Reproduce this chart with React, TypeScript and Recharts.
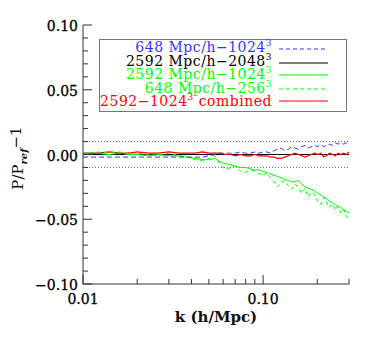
import { LineChart, Line, XAxis, YAxis, ReferenceLine } from "recharts"

const kValues = [
    0.010, 0.012, 0.014, 0.016, 0.018, 0.020, 0.023, 0.026, 0.030, 0.034,
    0.038, 0.042, 0.046, 0.050, 0.054, 0.058, 0.062, 0.066, 0.070, 0.075,
    0.080, 0.085, 0.090, 0.095, 0.100, 0.105, 0.110, 0.115, 0.120, 0.126,
    0.132, 0.138, 0.144, 0.150, 0.157, 0.164, 0.171, 0.178, 0.185, 0.193,
    0.201, 0.209, 0.217, 0.225, 0.234, 0.243, 0.252, 0.261, 0.270, 0.280,
    0.290, 0.300,
]

// 648 Mpc/h - 1024^3 (blue dashed)
const blue648_1024 = [
    -0.002, -0.002, -0.002, -0.002, -0.002, -0.002, -0.002, -0.002, -0.002, -0.002,
    -0.002, -0.002, -0.002, -0.001, 0.000, 0.001, 0.001, 0.001, 0.001, 0.002,
    0.001, 0.001, 0.002, 0.001, 0.002, 0.002, 0.001, 0.003, 0.004, 0.005,
    0.003, 0.004, 0.006, 0.005, 0.004, 0.006, 0.007, 0.005, 0.006, 0.007,
    0.006, 0.008, 0.006, 0.007, 0.008, 0.007, 0.009, 0.008, 0.009, 0.008,
    0.009, 0.010,
]

// 2592 Mpc/h - 2048^3 (black, reference)
const black2592_2048 = [
    0, 0, 0, 0, 0, 0, 0, 0, 0, 0,
    0, 0, 0, 0, 0, 0, 0, 0, 0, 0,
    0, 0, 0, 0, 0, 0, 0, 0, 0, 0,
    0, 0, 0, 0, 0, 0, 0, 0, 0, 0,
    0, 0, 0, 0, 0, 0, 0, 0, 0, 0,
    0, 0,
]

// 2592 Mpc/h - 1024^3 (green solid)
const green2592_1024 = [
    0.000, 0.001, 0.000, 0.001, 0.000, 0.000, -0.001, 0.000, -0.001, -0.001,
    -0.002, -0.003, -0.004, -0.004, -0.003, -0.006, -0.007, -0.008, -0.009, -0.010,
    -0.010, -0.011, -0.012, -0.012, -0.013, -0.014, -0.015, -0.016, -0.017, -0.018,
    -0.019, -0.020, -0.021, -0.021, -0.020, -0.023, -0.025, -0.026, -0.027, -0.028,
    -0.030, -0.031, -0.033, -0.034, -0.036, -0.037, -0.039, -0.040, -0.041, -0.043,
    -0.044, -0.045,
]

// 648 Mpc/h - 256^3 (green dashed)
const green648_256 = [
    0.001, 0.002, 0.001, 0.002, 0.000, 0.001, 0.000, -0.001, 0.001, -0.001,
    -0.002, -0.004, -0.005, -0.003, -0.001, -0.008, -0.012, -0.010, -0.009, -0.013,
    -0.014, -0.012, -0.013, -0.015, -0.016, -0.014, -0.018, -0.021, -0.025, -0.022,
    -0.020, -0.024, -0.027, -0.023, -0.025, -0.030, -0.026, -0.033, -0.029, -0.031,
    -0.036, -0.039, -0.033, -0.037, -0.041, -0.038, -0.043, -0.040, -0.045, -0.042,
    -0.048, -0.049,
]

// 2592-1024^3 combined (red)
const red2592_combined = [
    0.001, 0.001, 0.002, 0.001, 0.001, 0.002, 0.001, 0.001, 0.002, 0.001,
    0.001, 0.001, 0.002, 0.001, 0.001, 0.001, 0.000, 0.000, -0.001, 0.000,
    -0.001, -0.001, 0.000, -0.001, -0.001, -0.001, -0.002, -0.002, -0.003, -0.003,
    -0.002, -0.001, 0.000, 0.001, 0.000, -0.001, -0.002, -0.001, 0.000, 0.001,
    0.000, 0.001, -0.002, -0.001, 0.001, 0.000, -0.001, 0.001, 0.000, 0.001,
    0.000, 0.002,
]

const xTicks = [0.01, 0.02, 0.03, 0.04, 0.05, 0.06, 0.07, 0.08, 0.09, 0.1, 0.2, 0.3]
const xMajor = [0.01, 0.1]
const yTicks = [
    -0.1, -0.09, -0.08, -0.07, -0.06, -0.05, -0.04, -0.03, -0.02, -0.01, 0,
    0.01, 0.02, 0.03, 0.04, 0.05, 0.06, 0.07, 0.08, 0.09, 0.1,
]

const data = kValues.map((k, i) => ({
    k,
    blue: blue648_1024[i],
    black: black2592_2048[i],
    green: green2592_1024[i],
    greenDash: green648_256[i],
    red: red2592_combined[i],
}))

const AXIS = "#333"
const FONT = "'DejaVu Serif', serif"
const BLUE = "#3535ff"
const GREEN = "#00ff00"
const RED = "#ff0000"

const isMajorY = (v: number) => Math.round(v * 100) % 5 === 0

const LeftTick = (props: any) => {
    const { x, y, payload } = props
    const v = payload.value
    const major = isMajorY(v)
    return (
        <g>
            <line x1={x} x2={x + (major ? 9 : 5)} y1={y} y2={y} stroke={AXIS} />
            {major && (
                <text
                    x={x - 5}
                    y={y}
                    dy={6}
                    textAnchor="end"
                    fontFamily={FONT}
                    fontSize={14}
                    fill="#000"
                    stroke="#000"
                    strokeWidth={0.3}
                >
                    {v.toFixed(2).replace("-", "\u2212")}
                </text>
            )}
        </g>
    )
}

const RightTick = (props: any) => {
    const { x, y, payload } = props
    const major = isMajorY(payload.value)
    return <line x1={x} x2={x - (major ? 9 : 5)} y1={y} y2={y} stroke={AXIS} />
}

const BottomTick = (props: any) => {
    const { x, y, payload } = props
    const major = xMajor.includes(payload.value)
    return (
        <g>
            <line x1={x} x2={x} y1={y} y2={y - (major ? 9 : 5)} stroke={AXIS} />
            {major && (
                <text
                    x={x}
                    y={y + 20}
                    textAnchor="middle"
                    fontFamily={FONT}
                    fontSize={14}
                    fill="#000"
                    stroke="#000"
                    strokeWidth={0.3}
                >
                    {payload.value.toFixed(2)}
                </text>
            )}
        </g>
    )
}

const TopTick = (props: any) => {
    const { x, y, payload } = props
    const major = xMajor.includes(payload.value)
    return <line x1={x} x2={x} y1={y} y2={y + (major ? 9 : 5)} stroke={AXIS} />
}

const legendRows = [
    { main: "648 Mpc/h\u22121024", rest: "", color: BLUE, dash: "4 3", y: 47, ly: 49 },
    { main: "2592 Mpc/h\u22122048", rest: "", color: "#000", dash: undefined, y: 60.5, ly: 63 },
    { main: "2592 Mpc/h\u22121024", rest: "", color: GREEN, dash: undefined, y: 74, ly: 75 },
    { main: "648 Mpc/h\u2212256", rest: "", color: GREEN, dash: "4 3", y: 87.5, ly: 89 },
    { main: "2592\u22121024", rest: " combined", color: RED, dash: undefined, y: 101, ly: 101 },
]

export default function App() {
    return (
        <div style={{ position: "absolute", left: 0, top: 0, width: 374, height: 337, background: "#fff" }}>
            <LineChart width={374} height={337} data={data} margin={{ top: 25, right: 25, left: 0, bottom: 0 }}>
                <XAxis
                    xAxisId="bottom"
                    dataKey="k"
                    type="number"
                    scale="log"
                    domain={[0.01, 0.3]}
                    allowDataOverflow
                    ticks={xTicks}
                    interval={0}
                    height={53}
                    tickSize={0}
                    tickMargin={0}
                    tickLine={false}
                    axisLine={{ stroke: AXIS }}
                    tick={<BottomTick />}
                />
                <XAxis
                    xAxisId="top"
                    orientation="top"
                    dataKey="k"
                    type="number"
                    scale="log"
                    domain={[0.01, 0.3]}
                    allowDataOverflow
                    ticks={xTicks}
                    interval={0}
                    height={0}
                    tickSize={0}
                    tickMargin={0}
                    tickLine={false}
                    axisLine={{ stroke: AXIS }}
                    tick={<TopTick />}
                />
                <YAxis
                    yAxisId="left"
                    type="number"
                    domain={[-0.1, 0.1]}
                    allowDataOverflow
                    ticks={yTicks}
                    interval={0}
                    width={83}
                    tickSize={0}
                    tickMargin={0}
                    tickLine={false}
                    axisLine={{ stroke: AXIS }}
                    tick={<LeftTick />}
                />
                <YAxis
                    yAxisId="right"
                    orientation="right"
                    type="number"
                    domain={[-0.1, 0.1]}
                    allowDataOverflow
                    ticks={yTicks}
                    interval={0}
                    width={0}
                    tickSize={0}
                    tickMargin={0}
                    tickLine={false}
                    axisLine={{ stroke: AXIS }}
                    tick={<RightTick />}
                />
                <ReferenceLine xAxisId="bottom" yAxisId="left" y={0.01} stroke="#666" strokeDasharray="1 2" />
                <ReferenceLine xAxisId="bottom" yAxisId="left" y={-0.01} stroke="#666" strokeDasharray="1 2" />
                <Line xAxisId="bottom" yAxisId="left" dataKey="black" stroke="#000" strokeWidth={1} dot={false} isAnimationActive={false} />
                <Line xAxisId="bottom" yAxisId="left" dataKey="green" stroke={GREEN} strokeWidth={1} dot={false} isAnimationActive={false} />
                <Line xAxisId="bottom" yAxisId="left" dataKey="red" stroke={RED} strokeWidth={1.2} dot={false} isAnimationActive={false} />
                <Line xAxisId="bottom" yAxisId="left" dataKey="greenDash" stroke={GREEN} strokeWidth={1} strokeDasharray="4 3" dot={false} isAnimationActive={false} />
                <Line xAxisId="bottom" yAxisId="left" dataKey="blue" stroke={BLUE} strokeWidth={1} strokeDasharray="5 3" dot={false} isAnimationActive={false} />
            </LineChart>
            <svg width={374} height={337} style={{ position: "absolute", left: 0, top: 0, pointerEvents: "none" }}>
                <rect x={99.5} y={39.5} width={247} height={72} fill="#fff" stroke="#777" />
                {legendRows.map((r) => (
                    <g key={r.main}>
                        <text
                            x={272}
                            y={r.y + 5}
                            textAnchor="end"
                            fontFamily={FONT}
                            fontSize={14}
                            letterSpacing={0.5}
                            fill={r.color}
                        >
                            {r.main}
                            <tspan fontSize={9} dy={-6}>3</tspan>
                            {r.rest ? <tspan dy={6}>{r.rest}</tspan> : null}
                        </text>
                        <path
                            d={`M279,${r.ly}H328`}
                            fill="none"
                            stroke={r.color}
                            strokeWidth={1.2}
                            strokeDasharray={r.dash}
                        />
                    </g>
                ))}
                <text
                    x={23}
                    y={158}
                    transform="rotate(-90 23 158)"
                    textAnchor="middle"
                    fontFamily={FONT}
                    fontSize={15}
                    fill="#111"
                >
                    P/P<tspan fontSize={10} fontStyle="italic" fontWeight="bold" dy={4}>ref</tspan>
                    <tspan dy={-6}>{"\u22121"}</tspan>
                </text>
                <text x={216} y={322} textAnchor="middle" fontFamily={FONT} fontSize={15} fontWeight="bold" fill="#111">
                    k (h/Mpc)
                </text>
            </svg>
        </div>
    )
}
